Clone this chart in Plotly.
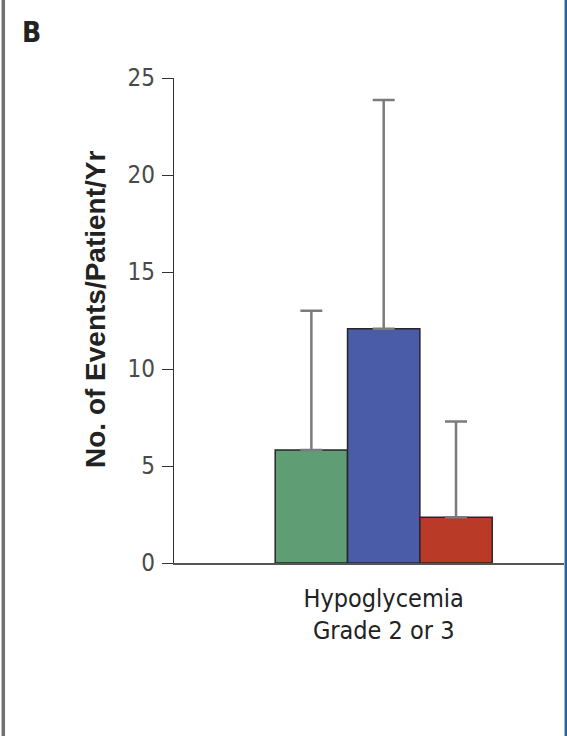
import plotly.graph_objects as go

# ---- data ----
category = ["Hypoglycemia<br>Grade 2 or 3"]
groups = ["Group A", "Group B", "Group C"]
means = [5.82, 12.08, 2.36]
upper_err = [7.18, 11.79, 4.94]
colors = ["#5f9d74", "#4a5ba8", "#b93a27"]
y_ticks = [0, 5, 10, 15, 20, 25]

W, H = 567, 736
L, R, T, B = 174, 3, 78, 173
pw = W - L - R
ph = H - T - B
COND = "DejaVu Sans Condensed, Liberation Sans, sans-serif"

fig = go.Figure()
for g, m, e, c in zip(groups, means, upper_err, colors):
    fig.add_trace(go.Bar(
        x=category, y=[m], name=g,
        marker=dict(color=c, line=dict(color="#262626", width=1.5)),
        error_y=dict(type="data", array=[e], arrayminus=[0], symmetric=False,
                     color="#7a7b7e", thickness=2.5, width=11),
        showlegend=False,
    ))

fig.update_layout(
    width=W, height=H,
    margin=dict(l=L, r=R, t=T, b=B, pad=0),
    paper_bgcolor="white", plot_bgcolor="white",
    barmode="group", bargap=1 - 217 / pw, bargroupgap=0,
    font=dict(family=COND),
    xaxis=dict(range=[-209.7 / pw, 1 - 209.7 / pw], showline=True, linecolor="#555555",
               linewidth=1.5, ticks="", showgrid=False, zeroline=False,
               tickfont=dict(size=25, color="#222222", family=COND),
               ticklabelstandoff=12),
    yaxis=dict(range=[0, 25], tickvals=y_ticks, ticks="outside", ticklen=11,
               tickwidth=1.3, tickcolor="#333333", showline=True, linecolor="#333333",
               linewidth=1.3, showgrid=False, zeroline=False,
               tickfont=dict(size=24, color="#4a4a4a", family=COND),
               ticklabelstandoff=2),
    annotations=[
        dict(text="<b>No. of Events/Patient/Yr</b>", textangle=-90, xref="paper", yref="paper",
             x=(95 - L) / pw, y=1 - (310 - T) / ph,
             showarrow=False, xanchor="center", yanchor="middle",
             font=dict(size=28, color="#222222", family="Liberation Sans")),
        dict(text="<b>B</b>", xref="paper", yref="paper",
             x=(20 - L) / pw, y=1 + (T - 14) / ph,
             showarrow=False, xanchor="left", yanchor="top",
             font=dict(size=28, color="#222222", family=COND)),
    ],
    shapes=[
        dict(type="line", xref="paper", yref="paper", x0=(3.3 - L) / pw, x1=(3.3 - L) / pw,
             y0=-B / ph, y1=1 + T / ph, line=dict(color="#707070", width=3.5)),
        dict(type="line", xref="paper", yref="paper", x0=(565.8 - L) / pw, x1=(565.8 - L) / pw,
             y0=-B / ph, y1=1 + T / ph, line=dict(color="#2b5f9c", width=2.5)),
    ],
)

fig.write_html("out.html", config={"displayModeBar": False},
               post_script="document.body.style.margin='0';document.body.style.overflow='hidden';")
